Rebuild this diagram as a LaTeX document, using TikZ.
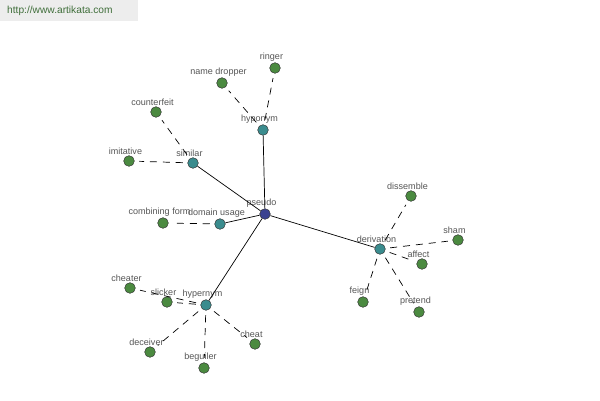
\documentclass[tikz,border=0pt]{standalone}
\usepackage{fontspec}
\setmainfont{Liberation Sans}
\definecolor{rootblue}{HTML}{3B4290}
\definecolor{hubteal}{HTML}{3A8C8E}
\definecolor{leafgreen}{HTML}{4B8A40}
\definecolor{labelgray}{HTML}{555555}
\definecolor{bannergreen}{HTML}{3F6E3A}
\tikzset{%
  point/.style={circle,inner sep=0pt,minimum size=0.32cm,draw=black!80,line width=0.4pt,fill=#1,
    label={[text=labelgray,font=\fontsize{7.7}{9}\selectfont,label distance=-3pt,xshift=-3pt]above:\pointlabel}},
  point/.default=leafgreen,
  edge/.style={line width=0.6pt,draw=#1},
  edge/.default=black,
  dashedge/.style={line width=0.6pt,draw=black,dash pattern=on 6pt off 5pt,shorten <=4pt,shorten >=4pt}
}
\newcommand{\pointlabel}{}
\newcommand{\pt}[5][leafgreen]{%
  \renewcommand{\pointlabel}{#5}%
  \node[point=#1] (#2) at (#3,#4) {};}

\begin{document}
\begin{tikzpicture}[x=0.03cm,y=-0.03cm]

    % Canvas and banner
    \useasboundingbox (0,0) rectangle (600,400);
    \fill[white] (0,0) rectangle (600,400);
    \fill[black!7] (0,0) rectangle (138,21);
    \node[anchor=west,text=bannergreen,font=\fontsize{8.7}{10}\selectfont,inner sep=0pt] (site) at (7,11) {http://www.artikata.com};

    % Define the points with coordinates and labels
    \pt[rootblue]{pseudo}{265}{214}{pseudo}
    \pt[hubteal]{hyponym}{263}{130}{hyponym}
    \pt[hubteal]{similar}{193}{163}{similar}
    \pt[hubteal]{domain}{220}{224}{domain usage}
    \pt[hubteal]{hypernym}{206}{305}{hypernym}
    \pt[hubteal]{derivation}{380}{249}{derivation}

    \pt{ringer}{275}{68}{ringer}
    \pt{namedropper}{222}{83}{name dropper}
    \pt{counterfeit}{156}{112}{counterfeit}
    \pt{imitative}{129}{161}{imitative}
    \pt{combining}{163}{223}{combining form}
    \pt{cheater}{130}{288}{cheater}
    \pt{slicker}{167}{302}{slicker}
    \pt{deceiver}{150}{352}{deceiver}
    \pt{beguiler}{204}{368}{beguiler}
    \pt{cheat}{255}{344}{cheat}
    \pt{dissemble}{411}{196}{dissemble}
    \pt{sham}{458}{240}{sham}
    \pt{affect}{422}{264}{affect}
    \pt{feign}{363}{302}{feign}
    \pt{pretend}{419}{312}{pretend}

    % Solid edges from the root to the relations
    \foreach \h in {hyponym,similar,domain,hypernym,derivation}
        \draw[edge] (pseudo) -- (\h);

    % Dashed edges from the relations to the words
    \foreach \h/\w in {hyponym/ringer,hyponym/namedropper,similar/counterfeit,similar/imitative,
        domain/combining,hypernym/cheater,hypernym/slicker,hypernym/deceiver,hypernym/beguiler,
        hypernym/cheat,derivation/dissemble,derivation/sham,derivation/affect,
        derivation/feign,derivation/pretend}
        \draw[dashedge] (\h) -- (\w);

\end{tikzpicture}
\end{document}
